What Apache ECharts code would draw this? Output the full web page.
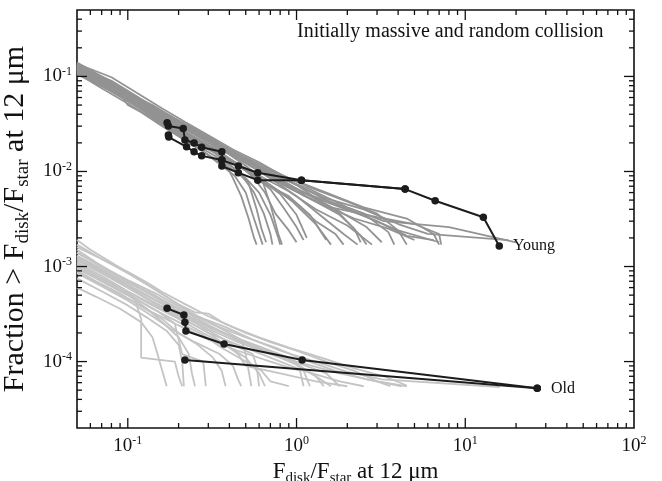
<!DOCTYPE html>
<html>
<head>
<meta charset="utf-8">
<script src="https://cdn.jsdelivr.net/npm/echarts@6/dist/echarts.min.js"></script>
<style>
html,body{margin:0;padding:0;background:#fff;}
#chart{width:662px;height:481px;}
</style>
</head>
<body>
<div id="chart"></div>
<script>
// ---------------- DATA ----------------
const X_MIN = 0.05, X_MAX = 100;
const Y_MIN = 2e-5, Y_MAX = 0.5;

const xMajorTicks = [0.1, 1, 10];
const xMinorTicks = [0.06,0.07,0.08,0.09, 0.2,0.3,0.4,0.5,0.6,0.7,0.8,0.9, 2,3,4,5,6,7,8,9, 20,30,40,50,60,70,80,90];
const yMajorTicks = [1e-4, 1e-3, 1e-2, 1e-1];
const yMinorTicks = [3e-5,4e-5,5e-5,6e-5,7e-5,8e-5,9e-5,
  2e-4,3e-4,4e-4,5e-4,6e-4,7e-4,8e-4,9e-4,
  2e-3,3e-3,4e-3,5e-3,6e-3,7e-3,8e-3,9e-3,
  2e-2,3e-2,4e-2,5e-2,6e-2,7e-2,8e-2,9e-2,
  0.2,0.3,0.4];

// young simulated runs (grey)
const youngRuns = [
 [[0.05,0.135],[0.07,0.095],[0.1,0.065],[0.14,0.045],[0.2,0.032],[0.28,0.024],[0.4,0.017],[0.55,0.012],[0.8,0.0075],[1.3,0.0048],[2.2,0.0032],[3.5,0.0025],[5,0.0019]],
 [[0.05,0.125],[0.075,0.085],[0.11,0.055],[0.16,0.036],[0.22,0.026],[0.3,0.019],[0.38,0.016],[0.5,0.0115],[0.62,0.0085],[0.7,0.0045],[0.78,0.0022],[0.82,0.0017]],
 [[0.05,0.118],[0.065,0.09],[0.09,0.068],[0.13,0.046],[0.19,0.03],[0.25,0.022],[0.35,0.016],[0.48,0.011],[0.6,0.008],[0.9,0.0055],[1.2,0.0035],[1.5,0.0019]],
 [[0.05,0.11],[0.07,0.08],[0.1,0.056],[0.15,0.037],[0.2,0.026],[0.3,0.018],[0.45,0.012],[0.55,0.0088],[0.65,0.006],[0.75,0.0036],[0.9,0.0024],[1.0,0.0018]],
 [[0.05,0.13],[0.08,0.09],[0.12,0.058],[0.17,0.04],[0.23,0.03],[0.3,0.023],[0.42,0.016],[0.6,0.011],[1.0,0.0072],[1.7,0.0045],[3,0.003],[4.5,0.0021],[6.5,0.0019]],
 [[0.05,0.14],[0.07,0.1],[0.1,0.07],[0.13,0.052],[0.18,0.038],[0.25,0.027],[0.35,0.019],[0.5,0.013],[0.7,0.0095],[1.1,0.006],[1.8,0.0038],[2.6,0.0026],[3.2,0.0018]],
 [[0.05,0.105],[0.06,0.09],[0.08,0.07],[0.11,0.05],[0.16,0.032],[0.22,0.022],[0.32,0.015],[0.42,0.011],[0.52,0.0075],[0.58,0.004],[0.62,0.0025],[0.66,0.0018]],
 [[0.05,0.122],[0.07,0.088],[0.1,0.06],[0.14,0.043],[0.2,0.029],[0.27,0.021],[0.38,0.0145],[0.5,0.0105],[0.7,0.0072],[0.95,0.0048],[1.3,0.0028],[1.6,0.0017]],
 [[0.05,0.128],[0.075,0.09],[0.1,0.066],[0.15,0.044],[0.21,0.03],[0.29,0.022],[0.4,0.0155],[0.55,0.011],[0.85,0.0075],[1.4,0.005],[2.5,0.0034],[4,0.0024],[7,0.0018]],
 [[0.05,0.115],[0.068,0.085],[0.1,0.058],[0.14,0.04],[0.2,0.027],[0.28,0.0195],[0.36,0.0155],[0.46,0.0115],[0.6,0.0085],[0.8,0.0058],[1.0,0.0035],[1.15,0.002]],
 [[0.05,0.132],[0.07,0.096],[0.09,0.075],[0.12,0.056],[0.17,0.038],[0.24,0.027],[0.34,0.019],[0.47,0.014],[0.66,0.0098],[1.2,0.0065],[2.0,0.0042],[3.3,0.003],[8.0,0.0026],[20,0.0018]],
 [[0.05,0.12],[0.066,0.09],[0.085,0.072],[0.1,0.058],[0.13,0.052],[0.15,0.035],[0.2,0.025],[0.3,0.017],[0.4,0.013],[0.55,0.0092],[0.7,0.0065],[0.85,0.004],[1.0,0.0026],[1.1,0.0019]],
 [[0.05,0.138],[0.07,0.1],[0.1,0.068],[0.14,0.048],[0.2,0.034],[0.3,0.022],[0.4,0.017],[0.6,0.012],[0.9,0.0085],[1.5,0.006],[2.5,0.0042],[4.5,0.0032],[6.5,0.0022],[7,0.0017]],
 [[0.05,0.108],[0.07,0.075],[0.1,0.052],[0.14,0.036],[0.2,0.024],[0.27,0.017],[0.35,0.012],[0.43,0.009],[0.5,0.006],[0.55,0.0035],[0.6,0.0022],[0.63,0.0017]],
 [[0.05,0.126],[0.072,0.09],[0.1,0.063],[0.15,0.042],[0.21,0.029],[0.3,0.02],[0.42,0.015],[0.58,0.0105],[0.75,0.0078],[1.0,0.0055],[1.4,0.0034],[1.9,0.0022],[2.3,0.0017]],
 [[0.05,0.113],[0.07,0.082],[0.1,0.057],[0.13,0.042],[0.16,0.034],[0.2,0.028],[0.26,0.02],[0.34,0.016],[0.45,0.012],[0.62,0.0088],[0.9,0.0062],[1.3,0.004],[2.0,0.0027],[2.8,0.0017]],
 [[0.05,0.13],[0.07,0.094],[0.1,0.066],[0.14,0.05],[0.19,0.036],[0.25,0.028],[0.33,0.021],[0.45,0.015],[0.6,0.0115],[0.8,0.0092],[1.2,0.0068],[2,0.0048],[3,0.0036],[4,0.0024],[4.5,0.0017]],
 [[0.05,0.118],[0.07,0.084],[0.1,0.058],[0.15,0.038],[0.21,0.026],[0.3,0.018],[0.37,0.013],[0.42,0.0085],[0.47,0.0055],[0.52,0.0032],[0.56,0.002],[0.58,0.0017]],
 [[0.05,0.124],[0.07,0.09],[0.1,0.062],[0.14,0.045],[0.2,0.031],[0.28,0.023],[0.38,0.017],[0.52,0.012],[0.7,0.0085],[1.0,0.0062],[1.6,0.0048],[2.5,0.0036],[3.5,0.0023],[3.8,0.0017]],
 [[0.05,0.136],[0.08,0.098],[0.12,0.063],[0.16,0.046],[0.22,0.033],[0.3,0.024],[0.42,0.017],[0.6,0.0125],[0.85,0.0088],[1.2,0.0058],[1.8,0.0036],[2.4,0.0021],[2.6,0.0017]],
 [[0.05,0.12],[0.07,0.085],[0.09,0.065],[0.1,0.05],[0.12,0.042],[0.16,0.03],[0.22,0.021],[0.3,0.015],[0.4,0.011],[0.5,0.0085],[0.6,0.006],[0.7,0.0035],[0.78,0.002],[0.8,0.0017]],
 [[0.05,0.128],[0.07,0.092],[0.1,0.064],[0.15,0.043],[0.22,0.03],[0.32,0.02],[0.45,0.0145],[0.6,0.011],[0.8,0.008],[1.1,0.0056],[1.6,0.0042],[3,0.0033],[5,0.0028],[7,0.0022],[7.2,0.0017]],
 [[0.05,0.112],[0.07,0.08],[0.1,0.055],[0.14,0.038],[0.2,0.026],[0.28,0.019],[0.4,0.0135],[0.55,0.0095],[0.75,0.0066],[1.0,0.0046],[1.3,0.003],[1.7,0.0022],[1.9,0.0017]],
 [[0.05,0.131],[0.07,0.095],[0.1,0.065],[0.14,0.047],[0.2,0.033],[0.27,0.025],[0.36,0.0185],[0.5,0.0135],[0.7,0.0098],[1.0,0.0072],[1.5,0.0052],[2.5,0.004],[4,0.0028],[6,0.0022],[18,0.0019]],
 [[0.05,0.119],[0.07,0.086],[0.1,0.06],[0.15,0.04],[0.2,0.028],[0.27,0.02],[0.33,0.016],[0.4,0.012],[0.48,0.0088],[0.56,0.006],[0.64,0.0036],[0.7,0.0022],[0.72,0.0017]],
 [[0.05,0.127],[0.07,0.09],[0.1,0.062],[0.15,0.041],[0.2,0.03],[0.3,0.021],[0.4,0.0158],[0.55,0.0112],[0.8,0.0078],[1.2,0.0052],[1.8,0.0035],[2.2,0.0025],[2.4,0.0018]]
];

// old simulated runs (light grey)
const oldRuns = [
 [[0.05,0.0012],[0.07,0.00085],[0.1,0.0006],[0.14,0.00042],[0.2,0.0003],[0.3,0.0002],[0.45,0.00015],[0.7,0.00011],[1.1,0.00008],[1.8,0.000062],[2.5,0.000055]],
 [[0.05,0.0015],[0.065,0.0011],[0.09,0.00078],[0.12,0.00058],[0.17,0.0004],[0.22,0.00031],[0.3,0.00024],[0.42,0.00018],[0.6,0.00014],[1.0,0.0001],[1.8,0.000075],[3,0.000062],[4.5,0.000055]],
 [[0.05,0.00095],[0.07,0.0007],[0.1,0.0005],[0.13,0.00036],[0.16,0.00026],[0.2,0.00018],[0.23,0.00012],[0.24,0.000075],[0.25,0.000055]],
 [[0.05,0.0011],[0.07,0.0008],[0.095,0.00058],[0.11,0.00045],[0.12,0.00028],[0.12,0.00011],[0.15,0.000105],[0.19,0.0001],[0.2,0.00007],[0.21,0.000055]],
 [[0.05,0.0019],[0.06,0.0015],[0.08,0.0011],[0.11,0.00078],[0.15,0.00055],[0.2,0.0004],[0.25,0.00033],[0.3,0.00032],[0.36,0.00026],[0.5,0.0002],[0.7,0.00016],[1.0,0.00013],[1.5,0.0001],[2.2,0.00008],[3,0.000062],[3.6,0.000055]],
 [[0.05,0.00085],[0.07,0.00062],[0.1,0.00044],[0.14,0.0003],[0.18,0.00022],[0.25,0.00016],[0.35,0.00012],[0.42,0.00009],[0.45,0.000065],[0.47,0.000055]],
 [[0.05,0.0013],[0.07,0.00092],[0.1,0.00065],[0.14,0.00046],[0.2,0.00033],[0.28,0.00025],[0.4,0.00019],[0.6,0.000145],[0.9,0.00011],[1.1,0.00008],[1.2,0.000055]],
 [[0.05,0.00105],[0.07,0.00075],[0.1,0.00054],[0.14,0.00039],[0.2,0.00028],[0.28,0.0002],[0.38,0.00015],[0.5,0.00011],[0.6,0.000075],[0.65,0.000055]],
 [[0.05,0.0014],[0.07,0.001],[0.1,0.00072],[0.15,0.00051],[0.2,0.00038],[0.27,0.00029],[0.38,0.00023],[0.55,0.00017],[0.8,0.00013],[1.3,0.0001],[2.0,0.000078],[3.2,0.000065],[16,0.000054]],
 [[0.05,0.0009],[0.065,0.0007],[0.09,0.00052],[0.12,0.00038],[0.16,0.00028],[0.2,0.0002],[0.26,0.00015],[0.32,0.00011],[0.36,0.00008],[0.38,0.000055]],
 [[0.05,0.0012],[0.07,0.00088],[0.1,0.00062],[0.15,0.00043],[0.22,0.0003],[0.3,0.00023],[0.45,0.00017],[0.65,0.00013],[1.0,0.000098],[1.5,0.000075],[1.8,0.000055]],
 [[0.05,0.00075],[0.07,0.00055],[0.1,0.00039],[0.13,0.00029],[0.17,0.00021],[0.2,0.00015],[0.21,0.0001],[0.215,0.000055]],
 [[0.05,0.0016],[0.07,0.0012],[0.1,0.00085],[0.14,0.0006],[0.19,0.00042],[0.25,0.00031],[0.35,0.00023],[0.5,0.00018],[0.75,0.00014],[1.1,0.000105],[1.7,0.00008],[2.6,0.000065],[4.2,0.000055]],
 [[0.05,0.001],[0.07,0.00072],[0.1,0.00052],[0.14,0.00036],[0.2,0.00026],[0.28,0.00019],[0.36,0.00014],[0.5,0.0001],[0.62,0.00008],[0.7,0.000062],[0.9,0.000055]],
 [[0.05,0.00125],[0.07,0.0009],[0.1,0.00064],[0.13,0.0005],[0.17,0.00038],[0.23,0.00028],[0.32,0.0002],[0.42,0.00015],[0.55,0.00012],[0.58,0.00009],[0.6,0.000055]],
 [[0.05,0.00115],[0.075,0.0008],[0.1,0.0006],[0.14,0.00043],[0.2,0.00031],[0.3,0.00022],[0.45,0.00016],[0.7,0.00012],[1.0,0.000095],[1.3,0.00007],[1.45,0.000055]],
 [[0.05,0.00098],[0.07,0.0007],[0.1,0.0005],[0.15,0.00034],[0.19,0.00025],[0.2,0.00017],[0.21,0.00012],[0.28,0.0001],[0.29,0.000055]],
 [[0.05,0.0013],[0.07,0.00095],[0.1,0.00068],[0.14,0.0005],[0.2,0.00036],[0.3,0.00026],[0.38,0.00021],[0.47,0.00017],[0.5,0.00012],[0.52,0.00008],[0.54,0.000055]],
 [[0.05,0.00088],[0.07,0.00064],[0.1,0.00046],[0.14,0.00033],[0.2,0.00024],[0.3,0.00017],[0.45,0.00013],[0.7,0.0001],[1.05,0.00008],[1.1,0.000055]],
 [[0.05,0.0017],[0.07,0.0012],[0.1,0.00088],[0.13,0.00068],[0.16,0.00054],[0.22,0.0004],[0.3,0.0003],[0.42,0.00023],[0.6,0.00018],[0.9,0.00014],[1.4,0.00011],[2.2,0.000085],[3.3,0.00007],[4.5,0.000056]],
 [[0.05,0.00105],[0.07,0.00076],[0.1,0.00055],[0.14,0.0004],[0.2,0.00029],[0.28,0.00022],[0.36,0.00016],[0.45,0.00012],[0.5,0.00009],[0.8,0.000075],[1.3,0.000062],[2,0.000055]],
 [[0.05,0.0006],[0.065,0.00048],[0.09,0.00036],[0.12,0.00026],[0.14,0.00018],[0.15,0.00012],[0.16,0.00008],[0.17,0.000055]],
 [[0.05,0.0014],[0.07,0.001],[0.1,0.0007],[0.15,0.00048],[0.2,0.00036],[0.27,0.00027],[0.37,0.0002],[0.5,0.00015],[0.72,0.00012],[1.0,0.000092],[1.3,0.00007],[1.6,0.000055]]
];

// observed (black)
const youngObsA = [[0.171,0.0326],[0.174,0.0301],[0.213,0.0284],[0.218,0.0214],[0.247,0.0199],[0.274,0.0180],[0.361,0.0161],[0.361,0.0132],[0.452,0.0114],[0.589,0.0097],[1.07,0.0081],[4.40,0.00653],[6.63,0.00492],[12.8,0.0033],[15.9,0.00164]];
const youngObsB = [[0.174,0.0242],[0.175,0.0230],[0.223,0.0182],[0.247,0.0161],[0.274,0.0146],[0.361,0.0132],[0.361,0.0114],[0.452,0.0097],[0.589,0.0081],[1.07,0.0081],[4.40,0.00653]];
const oldObsA = [[0.171,3.63e-4],[0.215,3.09e-4],[0.218,2.59e-4],[0.221,2.10e-4],[0.372,1.53e-4],[1.08,1.04e-4],[26.7,5.23e-5]];
const oldObsB = [[0.218,1.04e-4],[26.7,5.23e-5]];

const annotation = 'Initially massive and random collision';
const youngLabel = 'Young';
const oldLabel = 'Old';

// ---------------- CHART ----------------
const FONT = '"Liberation Serif","Times New Roman",serif';
const chart = echarts.init(document.getElementById('chart'), null, {renderer: 'canvas'});

function powLabel(v) {
  const l = Math.log10(v);
  const e = Math.round(l);
  if (Math.abs(l - e) > 1e-6) return '';
  return '{b|10}{s|' + e + '}';
}
const tickRich = {
  b: {fontFamily: FONT, fontSize: 19, lineHeight: 22, color: '#111', verticalAlign: 'middle'},
  s: {fontFamily: FONT, fontSize: 12, lineHeight: 12, color: '#111', verticalAlign: 'top'}
};
const xNameRich = {
  a: {fontFamily: FONT, fontSize: 23, lineHeight: 28, color: '#111', verticalAlign: 'middle'},
  sub: {fontFamily: FONT, fontSize: 15, lineHeight: 14, color: '#111', verticalAlign: 'bottom'}
};
const yNameRich = {
  a: {fontFamily: FONT, fontSize: 30, lineHeight: 34, color: '#111', verticalAlign: 'middle'},
  sub: {fontFamily: FONT, fontSize: 19, lineHeight: 15, color: '#111', verticalAlign: 'bottom'}
};

const tickData = [];
xMajorTicks.forEach(v => tickData.push([v, Y_MIN, 1, 0]));
xMinorTicks.forEach(v => tickData.push([v, Y_MIN, 0, 0]));
yMajorTicks.forEach(v => tickData.push([X_MIN, v, 1, 1]));
yMinorTicks.forEach(v => tickData.push([X_MIN, v, 0, 1]));

const series = [];
youngRuns.forEach(run => series.push({
  type: 'line', data: run, showSymbol: false, symbol: 'none', silent: true,
  lineStyle: {color: '#939393', width: 1.8}, z: 2
}));
oldRuns.forEach(run => series.push({
  type: 'line', data: run, showSymbol: false, symbol: 'none', silent: true,
  lineStyle: {color: '#c4c4c4', width: 1.8}, z: 2
}));
function endLabelled(arr, text) {
  return arr.map((p, i) => i === arr.length - 1 ? {
    value: p,
    label: {show: true, formatter: text, position: 'right', distance: 10,
      fontFamily: FONT, fontSize: 16, color: '#111'}
  } : p);
}
[[youngObsA, youngLabel], [youngObsB, null], [oldObsA, oldLabel], [oldObsB, null]].forEach(([arr, lab]) => {
  series.push({
    type: 'line', data: lab ? endLabelled(arr, lab) : arr, symbol: 'circle', symbolSize: 7.5,
    showSymbol: true, silent: true,
    itemStyle: {color: '#1c1c1c'}, lineStyle: {color: '#1c1c1c', width: 2}, z: 5
  });
});
series.push({
  type: 'custom', data: tickData, silent: true, clip: false, z: 10,
  renderItem: function (params, api) {
    const x = api.value(0), y = api.value(1), major = api.value(2), axis = api.value(3);
    const len = major ? 10 : 5;
    const st = {stroke: '#111', lineWidth: 1.3};
    if (axis === 0) {
      const b = api.coord([x, Y_MIN]), t = api.coord([x, Y_MAX]);
      return {type: 'group', children: [
        {type: 'line', shape: {x1: b[0], y1: b[1], x2: b[0], y2: b[1] - len}, style: st},
        {type: 'line', shape: {x1: t[0], y1: t[1], x2: t[0], y2: t[1] + len}, style: st}
      ]};
    } else {
      const l = api.coord([X_MIN, y]), r = api.coord([X_MAX, y]);
      return {type: 'group', children: [
        {type: 'line', shape: {x1: l[0], y1: l[1], x2: l[0] + len, y2: l[1]}, style: st},
        {type: 'line', shape: {x1: r[0], y1: r[1], x2: r[0] - len, y2: r[1]}, style: st}
      ]};
    }
  }
});

chart.setOption({
  animation: false,
  backgroundColor: '#fff',
  grid: {left: 77, right: 28, top: 10, bottom: 53, show: true, borderColor: '#111', borderWidth: 1.6,
    backgroundColor: 'transparent', containLabel: false, outerBoundsMode: 'none'},
  xAxis: {
    type: 'log', logBase: 10, min: X_MIN, max: X_MAX,
    axisLine: {show: false}, axisTick: {show: false}, splitLine: {show: false}, minorTick: {show: false},
    axisLabel: {formatter: powLabel, rich: tickRich, margin: 7, showMinLabel: true, showMaxLabel: true},
    name: '{a|F}{sub|disk}{a|/F}{sub|star}{a| at 12 μm}',
    nameLocation: 'middle', nameGap: 25, nameTextStyle: {rich: xNameRich}
  },
  yAxis: {
    type: 'log', logBase: 10, min: Y_MIN, max: Y_MAX,
    axisLine: {show: false}, axisTick: {show: false}, splitLine: {show: false}, minorTick: {show: false},
    axisLabel: {formatter: powLabel, rich: tickRich, margin: 5, showMinLabel: true, showMaxLabel: true},
    name: '{a|Fraction > F}{sub|disk}{a|/F}{sub|star}{a| at 12 μm}',
    nameLocation: 'middle', nameGap: 35, nameTextStyle: {rich: yNameRich}
  },
  graphic: [{
    type: 'text', left: 297, top: 22, silent: true,
    style: {text: annotation, font: '20px ' + FONT, fill: '#111'}
  }],
  series: series
});
</script>
</body>
</html>
